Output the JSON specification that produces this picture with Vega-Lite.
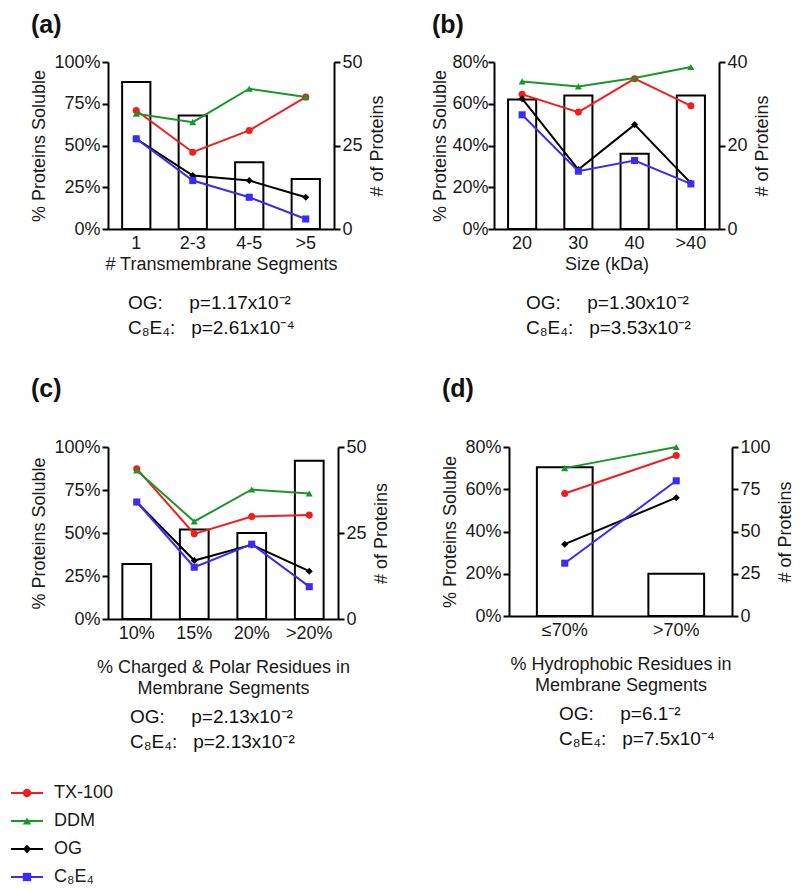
{
  "$schema": "https://vega.github.io/schema/vega-lite/v6.json",
  "background": "white",
  "padding": {"left": 10, "top": 13, "right": 5, "bottom": 5},
  "config": {
    "font": "Liberation Sans",
    "view": {"stroke": null},
    "axis": {
      "grid": false, "domainColor": "#000", "domainWidth": 2, "tickColor": "#000", "tickWidth": 2, "tickSize": 6,
      "labelFontSize": 18, "titleFontSize": 18, "titleFontWeight": "normal", "labelColor": "#1a1a1a", "titleColor": "#1a1a1a",
      "labelFont": "Liberation Sans", "titleFont": "Liberation Sans", "labelPadding": 2
    },
    "title": {"font": "Liberation Sans", "color": "#111"}
  },
  "datasets": {
    "barsA": [{"cat": "1", "n": 44}, {"cat": "2-3", "n": 34}, {"cat": "4-5", "n": 20}, {"cat": ">5", "n": 15}],
    "linesA": [
      {"cat": "1", "det": "TX-100", "pct": 71}, {"cat": "2-3", "det": "TX-100", "pct": 46}, {"cat": "4-5", "det": "TX-100", "pct": 59}, {"cat": ">5", "det": "TX-100", "pct": 79},
      {"cat": "1", "det": "DDM", "pct": 69}, {"cat": "2-3", "det": "DDM", "pct": 64}, {"cat": "4-5", "det": "DDM", "pct": 84}, {"cat": ">5", "det": "DDM", "pct": 79},
      {"cat": "1", "det": "OG", "pct": 54}, {"cat": "2-3", "det": "OG", "pct": 32}, {"cat": "4-5", "det": "OG", "pct": 29}, {"cat": ">5", "det": "OG", "pct": 19},
      {"cat": "1", "det": "C8E4", "pct": 54}, {"cat": "2-3", "det": "C8E4", "pct": 29}, {"cat": "4-5", "det": "C8E4", "pct": 19}, {"cat": ">5", "det": "C8E4", "pct": 6}
    ],
    "barsB": [{"cat": "20", "n": 31}, {"cat": "30", "n": 32}, {"cat": "40", "n": 18}, {"cat": ">40", "n": 32}],
    "linesB": [
      {"cat": "20", "det": "TX-100", "pct": 64.5}, {"cat": "30", "det": "TX-100", "pct": 56}, {"cat": "40", "det": "TX-100", "pct": 72}, {"cat": ">40", "det": "TX-100", "pct": 59},
      {"cat": "20", "det": "DDM", "pct": 70.7}, {"cat": "30", "det": "DDM", "pct": 68.3}, {"cat": "40", "det": "DDM", "pct": 72.3}, {"cat": ">40", "det": "DDM", "pct": 77.6},
      {"cat": "20", "det": "OG", "pct": 62.4}, {"cat": "30", "det": "OG", "pct": 28.5}, {"cat": "40", "det": "OG", "pct": 50}, {"cat": ">40", "det": "OG", "pct": 22},
      {"cat": "20", "det": "C8E4", "pct": 54.7}, {"cat": "30", "det": "C8E4", "pct": 27.7}, {"cat": "40", "det": "C8E4", "pct": 32.8}, {"cat": ">40", "det": "C8E4", "pct": 21.6}
    ],
    "barsC": [{"cat": "10%", "n": 16}, {"cat": "15%", "n": 26}, {"cat": "20%", "n": 25}, {"cat": ">20%", "n": 46}],
    "linesC": [
      {"cat": "10%", "det": "TX-100", "pct": 87.4}, {"cat": "15%", "det": "TX-100", "pct": 49.5}, {"cat": "20%", "det": "TX-100", "pct": 59.6}, {"cat": ">20%", "det": "TX-100", "pct": 60.4},
      {"cat": "10%", "det": "DDM", "pct": 86.4}, {"cat": "15%", "det": "DDM", "pct": 56.7}, {"cat": "20%", "det": "DDM", "pct": 75.3}, {"cat": ">20%", "det": "DDM", "pct": 73},
      {"cat": "10%", "det": "OG", "pct": 68}, {"cat": "15%", "det": "OG", "pct": 34}, {"cat": "20%", "det": "OG", "pct": 43.1}, {"cat": ">20%", "det": "OG", "pct": 27.8},
      {"cat": "10%", "det": "C8E4", "pct": 68}, {"cat": "15%", "det": "C8E4", "pct": 30.1}, {"cat": "20%", "det": "C8E4", "pct": 43.5}, {"cat": ">20%", "det": "C8E4", "pct": 18.8}
    ],
    "barsD": [{"cat": "≤70%", "n": 88}, {"cat": ">70%", "n": 25}],
    "linesD": [
      {"cat": "≤70%", "det": "TX-100", "pct": 58}, {"cat": ">70%", "det": "TX-100", "pct": 76},
      {"cat": "≤70%", "det": "DDM", "pct": 70}, {"cat": ">70%", "det": "DDM", "pct": 80},
      {"cat": "≤70%", "det": "OG", "pct": 34}, {"cat": ">70%", "det": "OG", "pct": 56},
      {"cat": "≤70%", "det": "C8E4", "pct": 25}, {"cat": ">70%", "det": "C8E4", "pct": 64}
    ],
    "legend": [
      {"det": "TX-100", "label": "TX-100"}, {"det": "DDM", "label": "DDM"}, {"det": "OG", "label": "OG"}, {"det": "C8E4", "label": "C₈E₄"}
    ]
  },
  "spacing": 32,
  "vconcat": [
    {
      "spacing": 39,
      "vconcat": [
        {
          "spacing": 44,
          "hconcat": [
            {
              "title": {"text": "(a)", "anchor": "start", "frame": "bounds", "fontSize": 25, "fontWeight": "bold", "offset": 15},
              "vconcat": [{
                "width": 226, "height": 167,
                "title": {"text": ["OG:\u00a0\u00a0\u00a0\u00a0\u00a0p=1.17x10⁻²", "C₈E₄:\u00a0\u00a0\u00a0p=2.61x10⁻⁴"], "orient": "bottom", "anchor": "start", "frame": "group", "dx": 20, "fontSize": 19, "fontWeight": "normal", "lineHeight": 25, "offset": 21},
                "encoding": {
                  "x": {"field": "cat", "type": "nominal", "sort": ["1", "2-3", "4-5", ">5"], "scale": {"paddingInner": 0.5, "paddingOuter": 0.25},
                        "axis": {"title": "# Transmembrane Segments", "ticks": false, "labelAngle": 0, "labelPadding": 5, "titlePadding": 3}}
                },
                "layer": [
                  {"data": {"name": "barsA"}, "mark": {"type": "bar", "fill": "white", "stroke": "black", "strokeWidth": 2},
                   "encoding": {"y": {"field": "n", "type": "quantitative", "scale": {"domain": [0, 50], "nice": false},
                     "axis": {"orient": "right", "values": [0, 25, 50], "title": "# of Proteins", "titleAngle": 270, "titleBaseline": "top", "titlePadding": 6}}}},
                  {"data": {"name": "linesA"},
                   "encoding": {
                     "y": {"field": "pct", "type": "quantitative", "scale": {"domain": [0, 100], "nice": false},
                       "axis": {"orient": "left", "values": [0, 25, 50, 75, 100], "labelExpr": "datum.value + '%'", "title": "% Proteins Soluble", "titlePadding": 5}},
                     "color": {"field": "det", "type": "nominal", "scale": {"domain": ["TX-100", "DDM", "OG", "C8E4"], "range": ["#f01e1e", "#1a962a", "#000000", "#3a2cf5"]}, "legend": null}
                   },
                   "layer": [
                     {"mark": {"type": "line", "strokeWidth": 2}},
                     {"mark": {"type": "point", "filled": true, "opacity": 1, "size": 50},
                      "encoding": {"shape": {"field": "det", "type": "nominal", "scale": {"domain": ["TX-100", "DDM", "OG", "C8E4"], "range": ["circle", "triangle-up", "diamond", "square"]}, "legend": null}}}
                   ]}
                ],
                "resolve": {"scale": {"y": "independent"}}
              }]
            },
            {
              "title": {"text": "(b)", "anchor": "start", "frame": "bounds", "fontSize": 25, "fontWeight": "bold", "offset": 15},
              "vconcat": [{
                "width": 225, "height": 167,
                "title": {"text": ["OG:\u00a0\u00a0\u00a0\u00a0\u00a0p=1.30x10⁻²", "C₈E₄:\u00a0\u00a0\u00a0p=3.53x10⁻²"], "orient": "bottom", "anchor": "start", "frame": "group", "dx": 32, "fontSize": 19, "fontWeight": "normal", "lineHeight": 25, "offset": 21},
                "encoding": {
                  "x": {"field": "cat", "type": "nominal", "sort": ["20", "30", "40", ">40"], "scale": {"paddingInner": 0.5, "paddingOuter": 0.25},
                        "axis": {"title": "Size (kDa)", "ticks": false, "labelAngle": 0, "labelPadding": 5, "titlePadding": 3}}
                },
                "layer": [
                  {"data": {"name": "barsB"}, "mark": {"type": "bar", "fill": "white", "stroke": "black", "strokeWidth": 2},
                   "encoding": {"y": {"field": "n", "type": "quantitative", "scale": {"domain": [0, 40], "nice": false},
                     "axis": {"orient": "right", "values": [0, 20, 40], "title": "# of Proteins", "titleAngle": 270, "titleBaseline": "top", "titlePadding": 6}}}},
                  {"data": {"name": "linesB"},
                   "encoding": {
                     "y": {"field": "pct", "type": "quantitative", "scale": {"domain": [0, 80], "nice": false},
                       "axis": {"orient": "left", "values": [0, 20, 40, 60, 80], "labelExpr": "datum.value + '%'", "title": "% Proteins Soluble", "titlePadding": 2, "labelPadding": 0}},
                     "color": {"field": "det", "type": "nominal", "scale": {"domain": ["TX-100", "DDM", "OG", "C8E4"], "range": ["#f01e1e", "#1a962a", "#000000", "#3a2cf5"]}, "legend": null}
                   },
                   "layer": [
                     {"mark": {"type": "line", "strokeWidth": 2}},
                     {"mark": {"type": "point", "filled": true, "opacity": 1, "size": 50},
                      "encoding": {"shape": {"field": "det", "type": "nominal", "scale": {"domain": ["TX-100", "DDM", "OG", "C8E4"], "range": ["circle", "triangle-up", "diamond", "square"]}, "legend": null}}}
                   ]}
                ],
                "resolve": {"scale": {"y": "independent"}}
              }]
            }
          ]
        },
        {
          "spacing": 50,
          "hconcat": [
            {
              "title": {"text": "(c)", "anchor": "start", "frame": "bounds", "fontSize": 25, "fontWeight": "bold", "offset": 36},
              "vconcat": [{
                "width": 230, "height": 172,
                "title": {"text": ["OG:\u00a0\u00a0\u00a0\u00a0\u00a0p=2.13x10⁻²", "C₈E₄:\u00a0\u00a0\u00a0p=2.13x10⁻²"], "orient": "bottom", "anchor": "start", "frame": "group", "dx": 22, "fontSize": 19, "fontWeight": "normal", "lineHeight": 25, "offset": 11},
                "encoding": {
                  "x": {"field": "cat", "type": "nominal", "sort": ["10%", "15%", "20%", ">20%"], "scale": {"paddingInner": 0.5, "paddingOuter": 0.25},
                        "axis": {"title": ["% Charged & Polar Residues in", "Membrane Segments"], "titleLineHeight": 21, "ticks": false, "labelAngle": 0, "labelPadding": 5, "titlePadding": 16}}
                },
                "layer": [
                  {"data": {"name": "barsC"}, "mark": {"type": "bar", "fill": "white", "stroke": "black", "strokeWidth": 2},
                   "encoding": {"y": {"field": "n", "type": "quantitative", "scale": {"domain": [0, 50], "nice": false},
                     "axis": {"orient": "right", "values": [0, 25, 50], "title": "# of Proteins", "titleAngle": 270, "titleBaseline": "top", "titlePadding": 6}}}},
                  {"data": {"name": "linesC"},
                   "encoding": {
                     "y": {"field": "pct", "type": "quantitative", "scale": {"domain": [0, 100], "nice": false},
                       "axis": {"orient": "left", "values": [0, 25, 50, 75, 100], "labelExpr": "datum.value + '%'", "title": "% Proteins Soluble", "titlePadding": 5}},
                     "color": {"field": "det", "type": "nominal", "scale": {"domain": ["TX-100", "DDM", "OG", "C8E4"], "range": ["#f01e1e", "#1a962a", "#000000", "#3a2cf5"]}, "legend": null}
                   },
                   "layer": [
                     {"mark": {"type": "line", "strokeWidth": 2}},
                     {"mark": {"type": "point", "filled": true, "opacity": 1, "size": 50},
                      "encoding": {"shape": {"field": "det", "type": "nominal", "scale": {"domain": ["TX-100", "DDM", "OG", "C8E4"], "range": ["circle", "triangle-up", "diamond", "square"]}, "legend": null}}}
                   ]}
                ],
                "resolve": {"scale": {"y": "independent"}}
              }]
            },
            {
              "title": {"text": "(d)", "anchor": "start", "frame": "bounds", "fontSize": 25, "fontWeight": "bold", "offset": 36},
              "vconcat": [{
                "width": 223, "height": 169,
                "title": {"text": ["OG:\u00a0\u00a0\u00a0\u00a0\u00a0p=6.1⁻²", "C₈E₄:\u00a0\u00a0\u00a0p=7.5x10⁻⁴"], "orient": "bottom", "anchor": "start", "frame": "group", "dx": 50, "fontSize": 19, "fontWeight": "normal", "lineHeight": 25, "offset": 11},
                "encoding": {
                  "x": {"field": "cat", "type": "nominal", "sort": ["≤70%", ">70%"], "scale": {"paddingInner": 0.5, "paddingOuter": 0.25},
                        "axis": {"title": ["% Hydrophobic Residues in", "Membrane Segments"], "titleLineHeight": 21, "ticks": false, "labelAngle": 0, "labelPadding": 5, "titlePadding": 16}}
                },
                "layer": [
                  {"data": {"name": "barsD"}, "mark": {"type": "bar", "fill": "white", "stroke": "black", "strokeWidth": 2},
                   "encoding": {"y": {"field": "n", "type": "quantitative", "scale": {"domain": [0, 100], "nice": false},
                     "axis": {"orient": "right", "values": [0, 25, 50, 75, 100], "title": "# of Proteins", "titleAngle": 270, "titleBaseline": "top", "titlePadding": 6}}}},
                  {"data": {"name": "linesD"},
                   "encoding": {
                     "y": {"field": "pct", "type": "quantitative", "scale": {"domain": [0, 80], "nice": false},
                       "axis": {"orient": "left", "values": [0, 20, 40, 60, 80], "labelExpr": "datum.value + '%'", "title": "% Proteins Soluble", "titlePadding": 5}},
                     "color": {"field": "det", "type": "nominal", "scale": {"domain": ["TX-100", "DDM", "OG", "C8E4"], "range": ["#f01e1e", "#1a962a", "#000000", "#3a2cf5"]}, "legend": null}
                   },
                   "layer": [
                     {"mark": {"type": "line", "strokeWidth": 2}},
                     {"mark": {"type": "point", "filled": true, "opacity": 1, "size": 50},
                      "encoding": {"shape": {"field": "det", "type": "nominal", "scale": {"domain": ["TX-100", "DDM", "OG", "C8E4"], "range": ["circle", "triangle-up", "diamond", "square"]}, "legend": null}}}
                   ]}
                ],
                "resolve": {"scale": {"y": "independent"}}
              }]
            }
          ]
        }
      ]
    },
    {
      "width": 110, "height": 84,
      "data": {"name": "legend"},
      "encoding": {
        "y": {"field": "det", "type": "nominal", "sort": ["TX-100", "DDM", "OG", "C8E4"], "scale": {"type": "point", "padding": 0}, "axis": null},
        "color": {"field": "det", "type": "nominal", "scale": {"domain": ["TX-100", "DDM", "OG", "C8E4"], "range": ["#f01e1e", "#1a962a", "#000000", "#3a2cf5"]}, "legend": null}
      },
      "layer": [
        {"mark": {"type": "rule", "strokeWidth": 2},
         "encoding": {"x": {"datum": -0.97, "type": "quantitative", "scale": {"domain": [0, 1.1]}, "axis": null}, "x2": {"datum": -0.65}}},
        {"mark": {"type": "point", "filled": true, "opacity": 1, "size": 70},
         "encoding": {"x": {"datum": -0.81, "type": "quantitative"},
           "shape": {"field": "det", "type": "nominal", "scale": {"domain": ["TX-100", "DDM", "OG", "C8E4"], "range": ["circle", "triangle-up", "diamond", "square"]}, "legend": null}}},
        {"mark": {"type": "text", "align": "left", "baseline": "middle", "fontSize": 18},
         "encoding": {"x": {"datum": -0.54, "type": "quantitative"}, "text": {"field": "label"}, "color": {"value": "#1a1a1a"}}}
      ]
    }
  ]
}
